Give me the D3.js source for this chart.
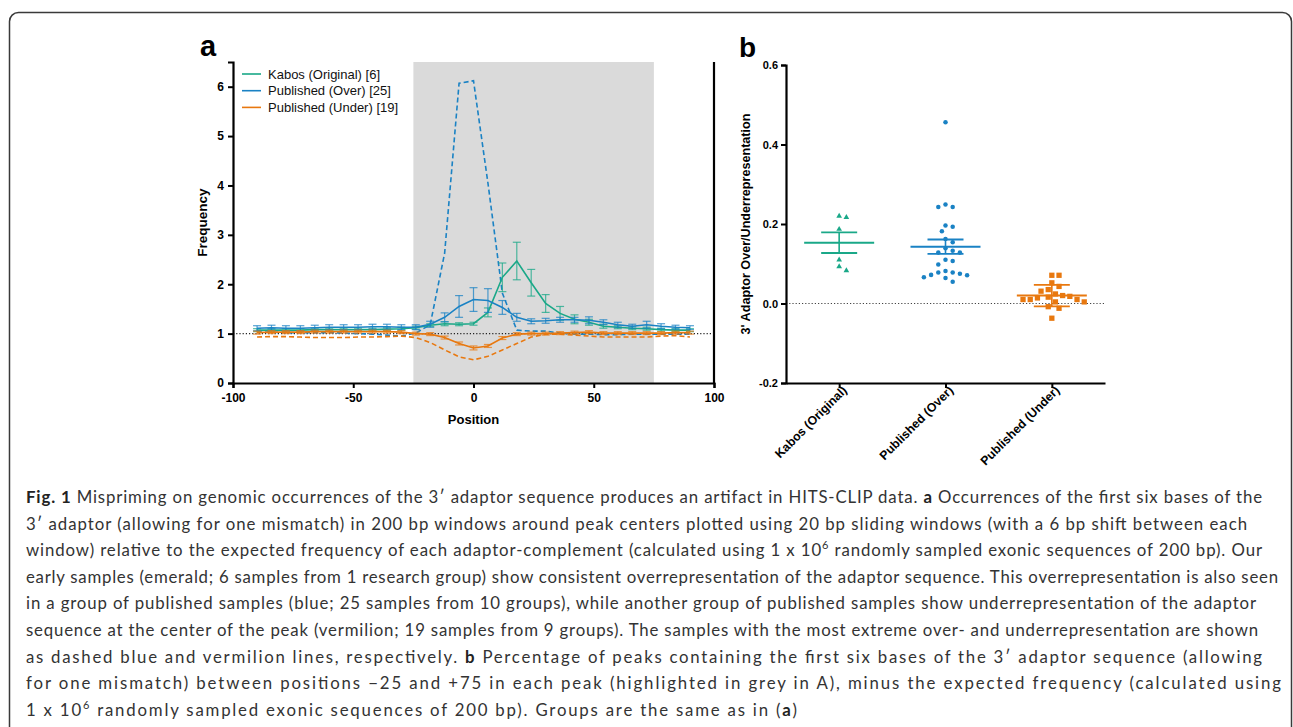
<!DOCTYPE html>
<html>
<head>
<meta charset="utf-8">
<script src="https://cdn.jsdelivr.net/npm/d3@7"></script>
<style>
  html, body { margin: 0; padding: 0; background: #fff; }
  svg { display: block; }
</style>
</head>
<body>
<svg id="fig" width="1293" height="727"></svg>
<script>
// ---- panel a: frequency around peak centre (20 bp windows, 6 bp shift)
const positions = [-90, -84, -78, -72, -66, -60, -54, -48, -42, -36, -30, -24, -18, -12, -6, 0,
  6, 12, 18, 24, 30, 36, 42, 48, 54, 60, 66, 72, 78, 84, 90];

const kabosMean = [1.07, 1.07, 1.07, 1.07, 1.08, 1.08, 1.08, 1.08, 1.08, 1.09, 1.10, 1.12, 1.17, 1.20, 1.19, 1.20,
  1.43, 2.14, 2.47, 2.03, 1.61, 1.41, 1.29, 1.23, 1.15, 1.13, 1.11, 1.10, 1.08, 1.07, 1.07];
const kabosErr = [0.03, 0.03, 0.03, 0.03, 0.03, 0.03, 0.03, 0.03, 0.03, 0.03, 0.03, 0.03, 0.03, 0.04, 0.03, 0.03,
  0.09, 0.29, 0.38, 0.27, 0.18, 0.14, 0.09, 0.06, 0.04, 0.03, 0.03, 0.03, 0.03, 0.03, 0.03];

const overMean = [1.11, 1.12, 1.11, 1.11, 1.12, 1.13, 1.13, 1.13, 1.14, 1.14, 1.13, 1.13, 1.19, 1.33, 1.55, 1.69,
  1.67, 1.53, 1.33, 1.25, 1.26, 1.28, 1.28, 1.27, 1.23, 1.18, 1.15, 1.18, 1.15, 1.13, 1.12];
const overErr = [0.05, 0.05, 0.05, 0.05, 0.05, 0.05, 0.05, 0.05, 0.05, 0.05, 0.05, 0.05, 0.06, 0.09, 0.22, 0.24,
  0.24, 0.14, 0.08, 0.05, 0.05, 0.05, 0.05, 0.07, 0.05, 0.05, 0.04, 0.07, 0.05, 0.04, 0.04];

const underMean = [1.02, 1.03, 1.03, 1.03, 1.04, 1.04, 1.04, 1.04, 1.04, 1.04, 1.03, 1.00, 0.99, 0.92, 0.80, 0.71,
  0.75, 0.91, 0.99, 1.00, 1.00, 1.01, 1.02, 1.03, 1.01, 1.01, 1.01, 1.01, 1.01, 1.02, 1.02];
const underErr = [0.03, 0.03, 0.03, 0.03, 0.03, 0.03, 0.03, 0.03, 0.03, 0.03, 0.03, 0.03, 0.03, 0.03, 0.03, 0.04,
  0.03, 0.03, 0.03, 0.03, 0.03, 0.03, 0.03, 0.03, 0.03, 0.03, 0.03, 0.03, 0.03, 0.03, 0.03];

// most extreme single samples (dashed)
const overExtreme = [1.03, 1.03, 1.02, 1.02, 1.02, 1.02, 1.01, 1.00, 0.99, 0.97, 0.95, 1.01, 1.18, 2.63, 6.07, 6.12,
  4.05, 1.82, 1.07, 1.05, 1.05, 1.01, 0.99, 0.99, 0.98, 0.98, 0.99, 0.99, 0.99, 0.99, 0.99];
const underExtreme = [0.93, 0.94, 0.94, 0.93, 0.92, 0.92, 0.92, 0.93, 0.93, 0.94, 0.95, 0.92, 0.82, 0.67, 0.53, 0.47,
  0.54, 0.67, 0.80, 0.93, 0.99, 0.99, 0.97, 0.95, 0.93, 0.93, 0.93, 0.93, 0.95, 0.96, 0.93];

const highlight = [-25, 75];
const xTicksA = [-100, -50, 0, 50, 100];
const yTicksA = [0, 1, 2, 3, 4, 5, 6];

// ---- panel b: per-sample over/underrepresentation
const groups = ["Kabos (Original)", "Published (Over)", "Published (Under)"];
const legendNames = ["Kabos (Original) [6]", "Published (Over) [25]", "Published (Under) [19]"];
const kabosPoints = [0.220, 0.217, 0.187, 0.110, 0.093, 0.083];
const overPoints = [0.456, 0.249, 0.243, 0.243, 0.196, 0.193, 0.182, 0.162, 0.154, 0.139, 0.133, 0.128, 0.128,
  0.110, 0.107, 0.098, 0.082, 0.078, 0.078, 0.075, 0.072, 0.071, 0.066, 0.064, 0.055];
const underPoints = [0.071, 0.071, 0.052, 0.043, 0.035, 0.031, 0.024, 0.018, 0.020, 0.014, 0.010, 0.010, 0.010,
  0.016, 0.004, 0.004, -0.008, -0.012, -0.037];
const groupMean = [0.153, 0.143, 0.020];
const groupErr = [0.026, 0.018, 0.027];
const yTicksB = [-0.2, 0.0, 0.2, 0.4, 0.6];

// caption lines: [text, bold, superscript]; lineEnds = right edge of each printed line
const caption = [
  [["Fig. 1", true], [" Mispriming on genomic occurrences of the 3\u2032 adaptor sequence produces an artifact in HITS-CLIP data. "], ["a", true], [" Occurrences of the first six bases of the"]],
  [["3\u2032 adaptor (allowing for one mismatch) in 200 bp windows around peak centers plotted using 20 bp sliding windows (with a 6 bp shift between each"]],
  [["window) relative to the expected frequency of each adaptor-complement (calculated using 1 x 10"], ["6", false, true], [" randomly sampled exonic sequences of 200 bp). Our"]],
  [["early samples (emerald; 6 samples from 1 research group) show consistent overrepresentation of the adaptor sequence. This overrepresentation is also seen"]],
  [["in a group of published samples (blue; 25 samples from 10 groups), while another group of published samples show underrepresentation of the adaptor"]],
  [["sequence at the center of the peak (vermilion; 19 samples from 9 groups). The samples with the most extreme over- and underrepresentation are shown"]],
  [["as dashed blue and vermilion lines, respectively. "], ["b", true], [" Percentage of peaks containing the first six bases of the 3\u2032 adaptor sequence (allowing"]],
  [["for one mismatch) between positions \u221225 and +75 in each peak (highlighted in grey in A), minus the expected frequency (calculated using"]],
  [["1 x 10"], ["6", false, true], [" randomly sampled exonic sequences of 200 bp). Groups are the same as in ("], ["a", true], [")"]]
];
const lineEnds = [1262, 1247, 1262, 1278, 1256, 1258, 1262, 1281, 797];

const colors = ["#1aa888", "#1a82c4", "#e8780f"];
const chartFont = "'Liberation Sans', Arial, sans-serif";

const svg = d3.select("#fig");

// outer rounded frame
svg.append("rect")
  .attr("x", 9.5).attr("y", 12.5)
  .attr("width", 1282).attr("height", 740)
  .attr("rx", 9)
  .attr("fill", "none")
  .attr("stroke", "#3a3a3a")
  .attr("stroke-width", 1.5);

function styleAxis(sel, size) {
  sel.attr("font-family", chartFont);
  sel.selectAll("path.domain").attr("stroke", "#000").attr("stroke-width", 2.2);
  sel.selectAll(".tick line").attr("stroke", "#000").attr("stroke-width", 2);
  sel.selectAll(".tick text")
    .attr("font-family", chartFont)
    .attr("font-size", size).attr("font-weight", "bold").attr("fill", "#000");
}

// ================= panel a =================
const xA = d3.scaleLinear().domain([-100, 100]).range([233, 714]);
const yA = d3.scaleLinear().domain([0, 6.5]).range([383, 62]);
const gA = svg.append("g");

gA.append("rect")
  .attr("x", xA(highlight[0]))
  .attr("y", yA(6.5))
  .attr("width", xA(highlight[1]) - xA(highlight[0]))
  .attr("height", yA(0) - yA(6.5))
  .attr("fill", "#dadada");

gA.append("line")
  .attr("x1", xA(-100)).attr("x2", xA(100))
  .attr("y1", yA(1)).attr("y2", yA(1))
  .attr("stroke", "#222")
  .attr("stroke-width", 1.2)
  .attr("stroke-dasharray", "1.2,2");

const lineA = (vals) => d3.line()
  .x((d, i) => xA(positions[i]))
  .y((d) => yA(d))(vals);

[[overExtreme, colors[1]], [underExtreme, colors[2]]].forEach(([vals, color]) => {
  gA.append("path")
    .attr("d", lineA(vals))
    .attr("fill", "none")
    .attr("stroke", color)
    .attr("stroke-width", 1.6)
    .attr("stroke-dasharray", "5,3");
});

const seriesA = [
  { mean: kabosMean, err: kabosErr, color: colors[0] },
  { mean: overMean, err: overErr, color: colors[1] },
  { mean: underMean, err: underErr, color: colors[2] }
];

seriesA.forEach((s) => {
  const g = gA.append("g");
  const bars = g.selectAll("g.err")
    .data(positions.map((p, i) => ({ p, m: s.mean[i], e: s.err[i] })))
    .enter()
    .append("g")
    .attr("stroke", s.color)
    .attr("stroke-opacity", 0.75)
    .attr("stroke-width", 1.2);
  bars.append("line")
    .attr("x1", (d) => xA(d.p)).attr("x2", (d) => xA(d.p))
    .attr("y1", (d) => yA(d.m + d.e)).attr("y2", (d) => yA(d.m - d.e));
  bars.append("line")
    .attr("x1", (d) => xA(d.p) - 4).attr("x2", (d) => xA(d.p) + 4)
    .attr("y1", (d) => yA(d.m + d.e)).attr("y2", (d) => yA(d.m + d.e));
  bars.append("line")
    .attr("x1", (d) => xA(d.p) - 4).attr("x2", (d) => xA(d.p) + 4)
    .attr("y1", (d) => yA(d.m - d.e)).attr("y2", (d) => yA(d.m - d.e));
  g.append("path")
    .attr("d", lineA(s.mean))
    .attr("fill", "none")
    .attr("stroke", s.color)
    .attr("stroke-width", 1.6);
});

// axes
const axisA = gA.append("g");
axisA.append("g")
  .attr("transform", `translate(0,${yA(0)})`)
  .call(d3.axisBottom(xA).tickValues(xTicksA).tickSize(5).tickPadding(5).tickFormat((d) => String(d)));
axisA.append("g")
  .attr("transform", `translate(${xA(-100)},0)`)
  .call(d3.axisLeft(yA).tickValues(yTicksA).tickSize(5).tickPadding(4).tickFormat((d) => String(d)));
axisA.selectAll("g").call(styleAxis, 12);
// plain frame line on the right
gA.append("line")
  .attr("x1", xA(100)).attr("x2", xA(100))
  .attr("y1", yA(6.5)).attr("y2", yA(0) + 1)
  .attr("stroke", "#000").attr("stroke-width", 2.2);

gA.append("text")
  .attr("x", xA(0)).attr("y", 424)
  .attr("text-anchor", "middle")
  .attr("font-family", chartFont).attr("font-size", 13).attr("font-weight", "bold")
  .text("Position");
gA.append("text")
  .attr("transform", `translate(207,${yA(3.25)}) rotate(-90)`)
  .attr("text-anchor", "middle")
  .attr("font-family", chartFont).attr("font-size", 13.5).attr("font-weight", "bold")
  .text("Frequency");

// legend
const legend = gA.append("g").attr("font-family", chartFont);
legendNames.forEach((name, i) => {
  const ly = 74 + i * 16.7;
  legend.append("line")
    .attr("x1", 242).attr("x2", 261)
    .attr("y1", ly).attr("y2", ly)
    .attr("stroke", colors[i]).attr("stroke-width", 1.6);
  legend.append("text")
    .attr("x", 268).attr("y", ly + 4.5)
    .attr("font-size", 13).attr("fill", "#111")
    .text(name);
});

svg.append("text")
  .attr("x", 200).attr("y", 56)
  .attr("font-family", chartFont).attr("font-size", 29).attr("font-weight", "bold")
  .text("a");

// ================= panel b =================
const xB = d3.scalePoint().domain(groups).range([786, 1105]).padding(0.5);
const yB = d3.scaleLinear().domain([-0.2, 0.6]).range([383, 65]);
const gB = svg.append("g");

gB.append("line")
  .attr("x1", 786).attr("x2", 1105)
  .attr("y1", yB(0)).attr("y2", yB(0))
  .attr("stroke", "#444").attr("stroke-width", 1.2)
  .attr("stroke-dasharray", "1.2,2");

// simple beeswarm so close values spread sideways
function swarm(values, cx, diam, step) {
  const placed = [];
  values.slice().sort((a, b) => b - a).forEach((v) => {
    const py = yB(v);
    for (let k = 0; k < 60; k++) {
      const off = (k % 2 === 1 ? 1 : -1) * Math.ceil(k / 2) * step;
      const px = cx + off;
      const clash = placed.some((p) => Math.hypot(p.x - px, p.y - py) < diam);
      if (!clash) { placed.push({ x: px, y: py }); break; }
    }
  });
  return placed;
}

const symbols = [d3.symbolTriangle, d3.symbolCircle, d3.symbolSquare];
const symbolSizes = [14, 16, 28];
const swarmDiam = [6, 6.5, 7];
[kabosPoints, overPoints, underPoints].forEach((pts, gi) => {
  const cx = xB(groups[gi]);
  const placed = swarm(pts, cx, swarmDiam[gi], 3.6);
  gB.append("g").selectAll("path")
    .data(placed)
    .enter()
    .append("path")
    .attr("d", d3.symbol().type(symbols[gi]).size(symbolSizes[gi]))
    .attr("transform", (d) => `translate(${d.x},${d.y})`)
    .attr("fill", colors[gi]);

  const m = groupMean[gi], e = groupErr[gi];
  const g = gB.append("g").attr("stroke", colors[gi]);
  g.append("line")
    .attr("x1", cx - 35).attr("x2", cx + 35)
    .attr("y1", yB(m)).attr("y2", yB(m))
    .attr("stroke-width", 2);
  g.append("line")
    .attr("x1", cx).attr("x2", cx)
    .attr("y1", yB(m + e)).attr("y2", yB(m - e))
    .attr("stroke-width", 1.6);
  [m + e, m - e].forEach((v) => {
    g.append("line")
      .attr("x1", cx - 18).attr("x2", cx + 18)
      .attr("y1", yB(v)).attr("y2", yB(v))
      .attr("stroke-width", 1.8);
  });
});

const axisB = gB.append("g");
const xAxisB = axisB.append("g")
  .attr("transform", `translate(0,${yB(-0.2)})`)
  .call(d3.axisBottom(xB).tickSize(5).tickSizeOuter(0));
const yAxisB = axisB.append("g")
  .attr("transform", `translate(786,0)`)
  .call(d3.axisLeft(yB).tickValues(yTicksB).tickSize(5).tickPadding(3).tickFormat((d) => d.toFixed(1)));
xAxisB.call(styleAxis, 12.3);
yAxisB.call(styleAxis, 11);
xAxisB.selectAll(".tick text")
  .attr("text-anchor", "end")
  .attr("transform", "translate(5,5) rotate(-45)")
  .attr("dy", "0.35em")
  .attr("y", 0);

gB.append("text")
  .attr("transform", `translate(750,${yB(0.2)}) rotate(-90)`)
  .attr("text-anchor", "middle")
  .attr("font-family", chartFont).attr("font-size", 12.6).attr("font-weight", "bold")
  .text("3' Adaptor Over/Underrepresentation");

svg.append("text")
  .attr("x", 739).attr("y", 57)
  .attr("font-family", chartFont).attr("font-size", 28).attr("font-weight", "bold")
  .text("b");

// ================= caption =================
const capG = svg.append("g")
  .attr("font-family", "Lato, 'Open Sans', sans-serif")
  .attr("font-size", 16.8)
  .attr("fill", "#333");
caption.forEach((segs, i) => {
  const t = capG.append("text")
    .attr("x", 26)
    .attr("y", 503 + i * 26.6)
    .attr("textLength", lineEnds[i] - 26)
    .attr("lengthAdjust", "spacing");
  let afterSup = false;
  segs.forEach(([str, bold, sup]) => {
    const ts = t.append("tspan").text(str);
    if (bold) ts.attr("font-weight", "bold").attr("fill", "#222");
    if (sup) ts.attr("font-size", 11).attr("dy", -7);
    else if (afterSup) ts.attr("dy", 7);
    afterSup = !!sup;
  });
});
</script>
</body>
</html>
